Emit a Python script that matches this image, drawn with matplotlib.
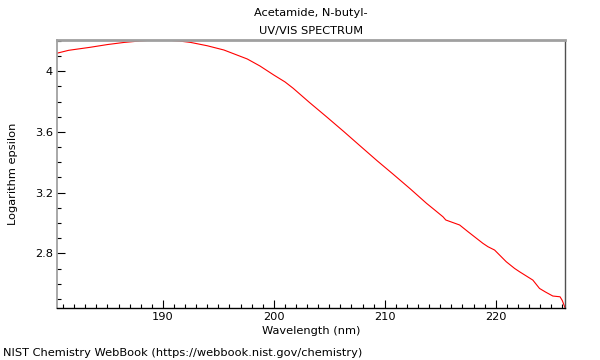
import matplotlib.pyplot as plt
from matplotlib.ticker import MultipleLocator

# Spectrum points
wavelength = [180.45, 181.5, 183.45, 185.0, 186.5, 188.0, 189.0, 190.6, 191.5,
              192.5, 194.0, 195.5, 197.6, 198.74, 200.0, 201.0, 201.74, 203.2,
              204.75, 206.3, 207.75, 209.3, 210.75, 212.3, 213.76, 214.5,
              215.25, 215.5, 216.75, 217.5, 218.85, 219.3, 219.9,
              220.95, 221.7, 222.15, 223.35, 223.95, 224.5, 225.15, 225.8,
              226.0, 226.25]
log_eps = [4.119, 4.138, 4.158, 4.176, 4.190, 4.200, 4.205, 4.204, 4.199,
           4.190, 4.168, 4.140, 4.081, 4.035, 3.975, 3.930, 3.888, 3.795,
           3.700, 3.603, 3.510, 3.411, 3.322, 3.225, 3.130, 3.086,
           3.041, 3.020, 2.987, 2.943, 2.866, 2.844, 2.822,
           2.745, 2.701, 2.679, 2.624, 2.569, 2.545, 2.519, 2.514,
           2.490, 2.442]

title = "Acetamide, N-butyl-\nUV/VIS SPECTRUM"
footer = "NIST Chemistry WebBook (https://webbook.nist.gov/chemistry)"

fig = plt.figure(figsize=(6, 3.6), dpi=100)
ax = fig.add_axes([0.095, 0.1444, 0.8467, 0.7445])

ax.plot(wavelength, log_eps, color="red", linewidth=0.8)

ax.set_xlim(180.45, 226.25)
ax.set_ylim(2.44, 4.206)
ax.xaxis.set_major_locator(MultipleLocator(10))
ax.xaxis.set_minor_locator(MultipleLocator(1))
ax.yaxis.set_major_locator(MultipleLocator(0.4))
ax.yaxis.set_minor_locator(MultipleLocator(0.1))
ax.yaxis.set_major_formatter(plt.FuncFormatter(lambda v, p: f"{v:g}"))

ax.tick_params(which="both", direction="in", labelsize=8.2, pad=3)
ax.tick_params(which="major", length=6, width=0.8)
ax.tick_params(which="minor", length=3, width=0.8)

ax.spines["top"].set_color("#a0a0a0")
ax.spines["top"].set_linewidth(2)
ax.spines["left"].set_color("#999999")
ax.spines["left"].set_linewidth(1.2)
ax.spines["right"].set_color("#505050")
ax.spines["right"].set_linewidth(1.0)
ax.spines["bottom"].set_color("black")
ax.spines["bottom"].set_linewidth(1.0)

ax.set_xlabel("Wavelength (nm)", fontsize=8.2, labelpad=3)
ax.set_ylabel("Logarithm epsilon", fontsize=8.2, labelpad=12)
ax.set_title(title, fontsize=8.2, linespacing=2.1, pad=4)

fig.text(0.005, 0.01, footer, fontsize=8.2)

plt.savefig("out.png", dpi=100)
